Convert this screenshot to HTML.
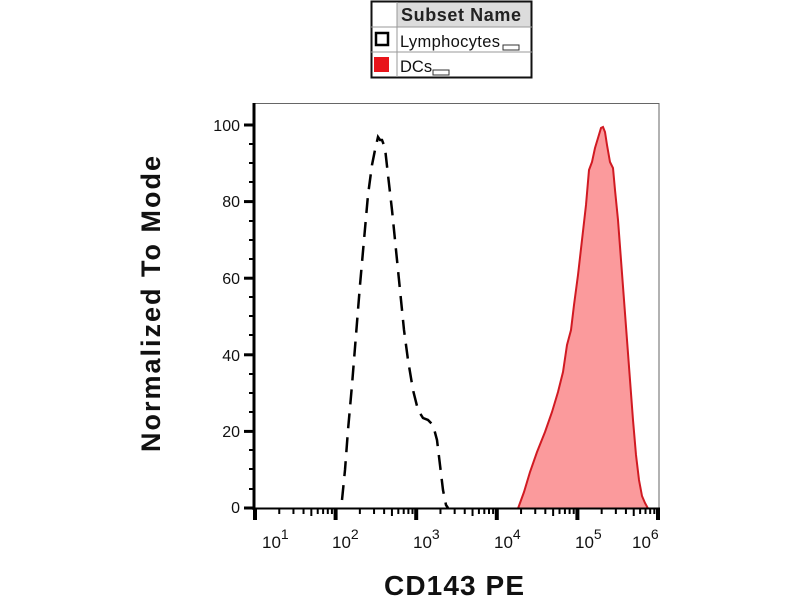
<!DOCTYPE html>
<html><head><meta charset="utf-8"><style>
body{margin:0;background:#fff;}
svg text{font-family:"Liberation Sans",sans-serif;}
</style></head><body>
<svg width="800" height="600" viewBox="0 0 800 600" xmlns="http://www.w3.org/2000/svg">
<rect width="800" height="600" fill="#fff"/>
<!-- legend -->
<rect x="371.5" y="1.5" width="160" height="76" fill="#fff" stroke="#111" stroke-width="2"/>
<rect x="397" y="2.5" width="133.5" height="24" fill="#dcdcdc"/>
<line x1="371" y1="27" x2="532" y2="27" stroke="#999" stroke-width="1"/>
<line x1="371" y1="52" x2="532" y2="52" stroke="#999" stroke-width="1"/>
<line x1="397" y1="2" x2="397" y2="77" stroke="#999" stroke-width="1"/>
<text x="401" y="21" font-size="18" font-weight="bold" fill="#222" textLength="120">Subset Name</text>
<rect x="376" y="33" width="12" height="12" fill="#fff" stroke="#000" stroke-width="2.5"/>
<text x="400" y="47" font-size="16.5" fill="#111" textLength="100">Lymphocytes</text>
<rect x="503" y="45" width="16" height="5" fill="#fff" stroke="#333" stroke-width="1"/>
<rect x="374" y="57" width="15" height="15" fill="#e8141a"/>
<text x="400" y="72" font-size="16.5" fill="#111">DCs</text>
<rect x="433" y="70" width="16" height="5" fill="#fff" stroke="#333" stroke-width="1"/>
<!-- frame -->
<rect x="254" y="103.5" width="405" height="405" fill="none" stroke="#666" stroke-width="1"/>
<!-- red filled -->
<path d="M254,508.5 L518,508.5 L524,492 L530,472 L537,452 L545,432 L552,412 L558,392 L563,372 L567,345 L571,330 L574,305 L578,275 L582,240 L586,205 L589,170 L592,162 L595,148 L598,138 L601,128 L603,127 L605,132 L607,145 L610,162 L613,168 L615,190 L618,220 L621,260 L624,300 L627,340 L630,380 L633,420 L636,455 L639,480 L642,496 L645,503 L648,508.5 L659,508.5" fill="#fb9a9c" stroke="#d11a22" stroke-width="2"/>
<!-- dashed -->
<path d="M342,500 L345,470 L348,430 L352,385 L356,335 L360,285 L364,240 L368,195 L372,165 L375,150 L378,137 L380,140 L382,140 L385,148 L388,175 L392,210 L396,250 L400,290 L404,330 L408,360 L413,390 L418,410 L423,418 L428,420 L433,425 L437,440 L440,465 L443,490 L446,505 L448,508" fill="none" stroke="#000" stroke-width="2.5" stroke-dasharray="15,9"/>
<!-- axes -->
<line x1="254" y1="103" x2="254" y2="510" stroke="#000" stroke-width="3"/>
<line x1="253" y1="508.5" x2="660" y2="508.5" stroke="#000" stroke-width="2"/>
<g stroke="#000" stroke-width="3">
<line x1="244" y1="125" x2="254" y2="125"/><line x1="244" y1="201.6" x2="254" y2="201.6"/><line x1="244" y1="278.2" x2="254" y2="278.2"/><line x1="244" y1="354.8" x2="254" y2="354.8"/><line x1="244" y1="431.4" x2="254" y2="431.4"/><line x1="244" y1="508" x2="254" y2="508"/>
</g>
<g stroke="#000" stroke-width="2">
<line x1="249" y1="144" x2="254" y2="144"/><line x1="249" y1="163" x2="254" y2="163"/><line x1="249" y1="182" x2="254" y2="182"/>
<line x1="249" y1="221" x2="254" y2="221"/><line x1="249" y1="240" x2="254" y2="240"/><line x1="249" y1="259" x2="254" y2="259"/>
<line x1="249" y1="297" x2="254" y2="297"/><line x1="249" y1="316" x2="254" y2="316"/><line x1="249" y1="335" x2="254" y2="335"/>
<line x1="249" y1="374" x2="254" y2="374"/><line x1="249" y1="393" x2="254" y2="393"/><line x1="249" y1="412" x2="254" y2="412"/>
<line x1="249" y1="450" x2="254" y2="450"/><line x1="249" y1="469" x2="254" y2="469"/><line x1="249" y1="489" x2="254" y2="489"/>
</g>
<g font-size="16" fill="#111" text-anchor="end">
<text x="240" y="131">100</text><text x="240" y="207">80</text><text x="240" y="284">60</text><text x="240" y="361">40</text><text x="240" y="437">20</text><text x="240" y="513">0</text>
</g>
<g id="xt" stroke="#000"></g>
<g font-size="17" fill="#111">
<text x="262" y="548">10<tspan dy="-9" font-size="14">1</tspan></text>
<text x="332" y="548">10<tspan dy="-9" font-size="14">2</tspan></text>
<text x="413" y="548">10<tspan dy="-9" font-size="14">3</tspan></text>
<text x="494" y="548">10<tspan dy="-9" font-size="14">4</tspan></text>
<text x="575" y="548">10<tspan dy="-9" font-size="14">5</tspan></text>
<text x="632" y="548">10<tspan dy="-9" font-size="14">6</tspan></text>
</g>
<text x="454" y="595" font-size="28" font-weight="bold" fill="#111" text-anchor="middle" textLength="140">CD143 PE</text>
<text transform="translate(160,304) rotate(-90)" font-size="27" font-weight="bold" fill="#111" text-anchor="middle" textLength="296">Normalized To Mode</text>
</svg>
<script>
var g=document.getElementById('xt'),s='';
for(var k=0;k<6;k++){var x0=255+k*80.6;
s+='<line x1="'+x0+'" y1="508" x2="'+x0+'" y2="520" stroke-width="4"/>';
if(k<5)for(var m=2;m<10;m++){var x=x0+Math.log10(m)*80.6;var L=(m==5)?516:514;
s+='<line x1="'+x+'" y1="508" x2="'+x+'" y2="'+L+'" stroke-width="2"/>';}}
g.innerHTML=s;
</script>
</body></html>
